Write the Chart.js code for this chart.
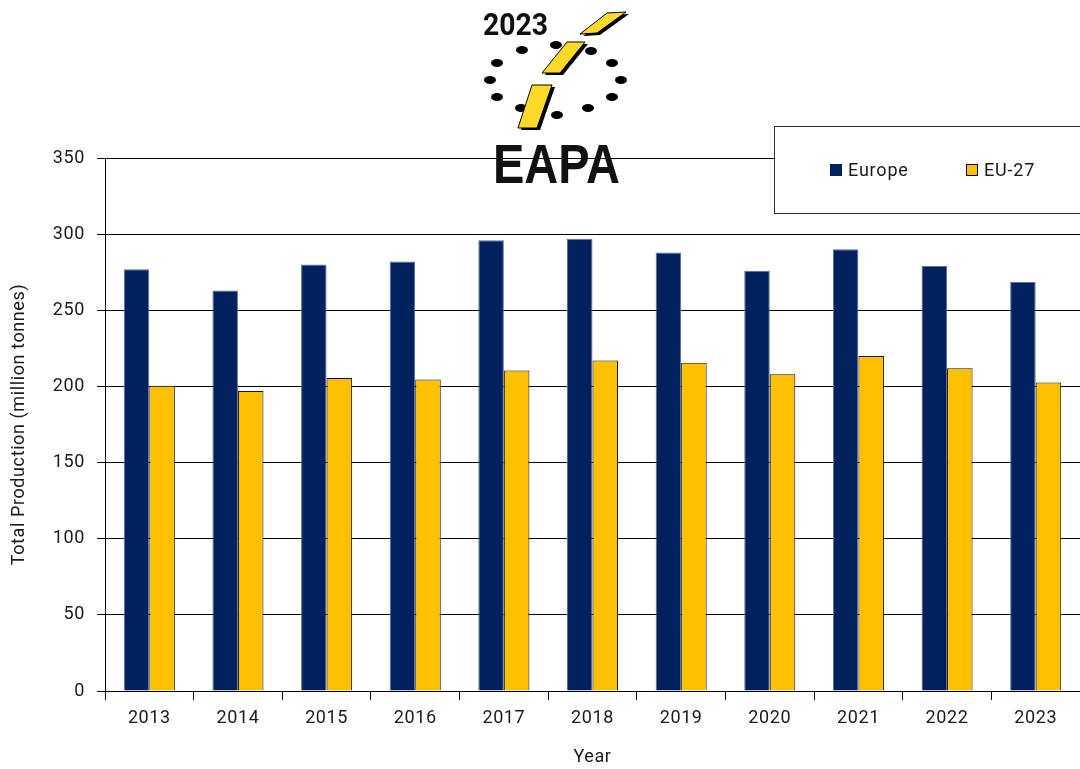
<!DOCTYPE html>
<html>
<head>
<meta charset="utf-8">
<script src="https://cdn.jsdelivr.net/npm/chart.js@4.4.1/dist/chart.umd.min.js"></script>
<style>
  html, body { margin: 0; padding: 0; background: #fff; }
  #wrap { position: relative; width: 1080px; height: 769px; overflow: hidden; }
  #logo { position: absolute; left: 0; top: 0; pointer-events: none; }
</style>
</head>
<body>
<div id="wrap">
  <canvas id="c" width="1080" height="769"></canvas>
  <svg id="logo" width="1080" height="200" viewBox="0 0 1080 200">
    <g fill="#000">
      <ellipse cx="522" cy="50" rx="6" ry="4"/>
      <ellipse cx="556" cy="45" rx="6" ry="4"/>
      <ellipse cx="591" cy="51" rx="6" ry="4"/>
      <ellipse cx="612" cy="63" rx="6" ry="4"/>
      <ellipse cx="621" cy="80" rx="6" ry="4"/>
      <ellipse cx="612" cy="97" rx="6" ry="4"/>
      <ellipse cx="588" cy="108" rx="6" ry="4"/>
      <ellipse cx="557" cy="115" rx="6" ry="4"/>
      <ellipse cx="521" cy="108" rx="6" ry="4"/>
      <ellipse cx="497" cy="97" rx="6" ry="4"/>
      <ellipse cx="490" cy="80" rx="6" ry="4"/>
      <ellipse cx="497" cy="63" rx="6" ry="4"/>
    </g>
    <g stroke="none">
      <polygon points="610,15 629,14 600,35 583,36" fill="#000"/>
      <polygon points="607,13 626,12 597,33 580,34" fill="#FFD928" stroke="#000" stroke-width="1"/>
      <polygon points="570,44 588,44 563,75 545,75" fill="#000"/>
      <polygon points="567,42 585,42 560,73 542,73" fill="#FFD928" stroke="#000" stroke-width="1"/>
      <polygon points="535,87 555,87 540,130 521,130" fill="#000"/>
      <polygon points="532,85 552,85 537,128 518,128" fill="#FFD928" stroke="#000" stroke-width="1"/>
    </g>
    <text x="483" y="35" font-family="Roboto, 'Liberation Sans', sans-serif" font-weight="700" font-size="31" textLength="65" lengthAdjust="spacingAndGlyphs" fill="#111">2023</text>
    <text x="493" y="183" font-family="'Liberation Sans', Arial, sans-serif" font-weight="700" font-size="56" textLength="127" lengthAdjust="spacingAndGlyphs" fill="#111">EAPA</text>
  </svg>
</div>
<script>
const categories = ["2013","2014","2015","2016","2017","2018","2019","2020","2021","2022","2023"];
const europeValues = [277, 263, 280, 282, 296, 297, 288, 276, 290, 279, 268.5];
const eu27Values = [200.5, 197, 205.5, 204.5, 210.5, 217, 215.5, 208, 220, 212, 202.5];
const seriesNames = ["Europe", "EU-27"];
const yTicks = { min: 0, max: 350, step: 50 };

const FONT = "Roboto, 'DejaVu Sans', sans-serif";
const TXT = "#1a1a1a";

const spacing = {
  id: 'spacing',
  beforeDraw(chart) { chart.ctx.letterSpacing = '0.6px'; }
};

const legendBox = {
  id: 'legendBox',
  afterDraw(chart) {
    const ctx = chart.ctx;
    ctx.save();
    ctx.fillStyle = '#fff';
    ctx.strokeStyle = '#333';
    ctx.lineWidth = 1;
    ctx.fillRect(774.5, 126.5, 320, 87);
    ctx.strokeRect(774.5, 126.5, 320, 87);
    const xs = [830, 966];
    ctx.letterSpacing = '0.8px';
    ctx.font = "18px " + FONT;
    ctx.textBaseline = 'middle';
    chart.data.datasets.forEach((ds, i) => {
      ctx.fillStyle = ds.backgroundColor;
      ctx.fillRect(xs[i], 164, 12, 12);
      if (i === 1) { ctx.strokeStyle = '#000'; ctx.strokeRect(xs[i] + 0.5, 164.5, 11, 11); }
      ctx.fillStyle = TXT;
      ctx.fillText(ds.label, xs[i] + 18, 171);
    });
    ctx.restore();
  }
};

new Chart(document.getElementById('c'), {
  type: 'bar',
  data: {
    labels: categories,
    datasets: [
      { label: seriesNames[0], data: europeValues, backgroundColor: '#00215E', borderColor: '#5A6F9C', borderWidth: 1, categoryPercentage: 0.576, barPercentage: 1.0 },
      { label: seriesNames[1], data: eu27Values, backgroundColor: '#FFC000', borderColor: '#111', borderWidth: 1, categoryPercentage: 0.576, barPercentage: 1.0 }
    ]
  },
  options: {
    responsive: false,
    animation: false,
    devicePixelRatio: 1,
    layout: { padding: { top: 158, left: 0, right: 0, bottom: 0 } },
    plugins: { legend: { display: false }, tooltip: { enabled: false } },
    scales: {
      x: {
        grid: { offset: true, drawOnChartArea: false, color: '#000', tickLength: 9, lineWidth: 1 },
        border: { color: '#000', width: 1 },
        ticks: { color: TXT, font: { family: FONT, size: 18 }, padding: 8, maxRotation: 0 },
        title: { display: true, text: 'Year', color: TXT, font: { family: FONT, size: 18 }, padding: { top: 0, bottom: 1 } },
        afterFit(scale) { scale.height = 78; }
      },
      y: {
        min: yTicks.min, max: yTicks.max,
        ticks: { stepSize: yTicks.step, color: TXT, font: { family: FONT, size: 18 }, padding: 12 },
        grid: { color: '#000', tickLength: 8, lineWidth: 1 },
        border: { color: '#000', width: 1 },
        title: { display: true, text: 'Total Production (million tonnes)', color: TXT, font: { family: FONT, size: 18 }, padding: { top: 9, bottom: 0 } },
        afterFit(scale) { scale.width = 105; }
      }
    }
  },
  plugins: [spacing, legendBox]
});
</script>
</body>
</html>
